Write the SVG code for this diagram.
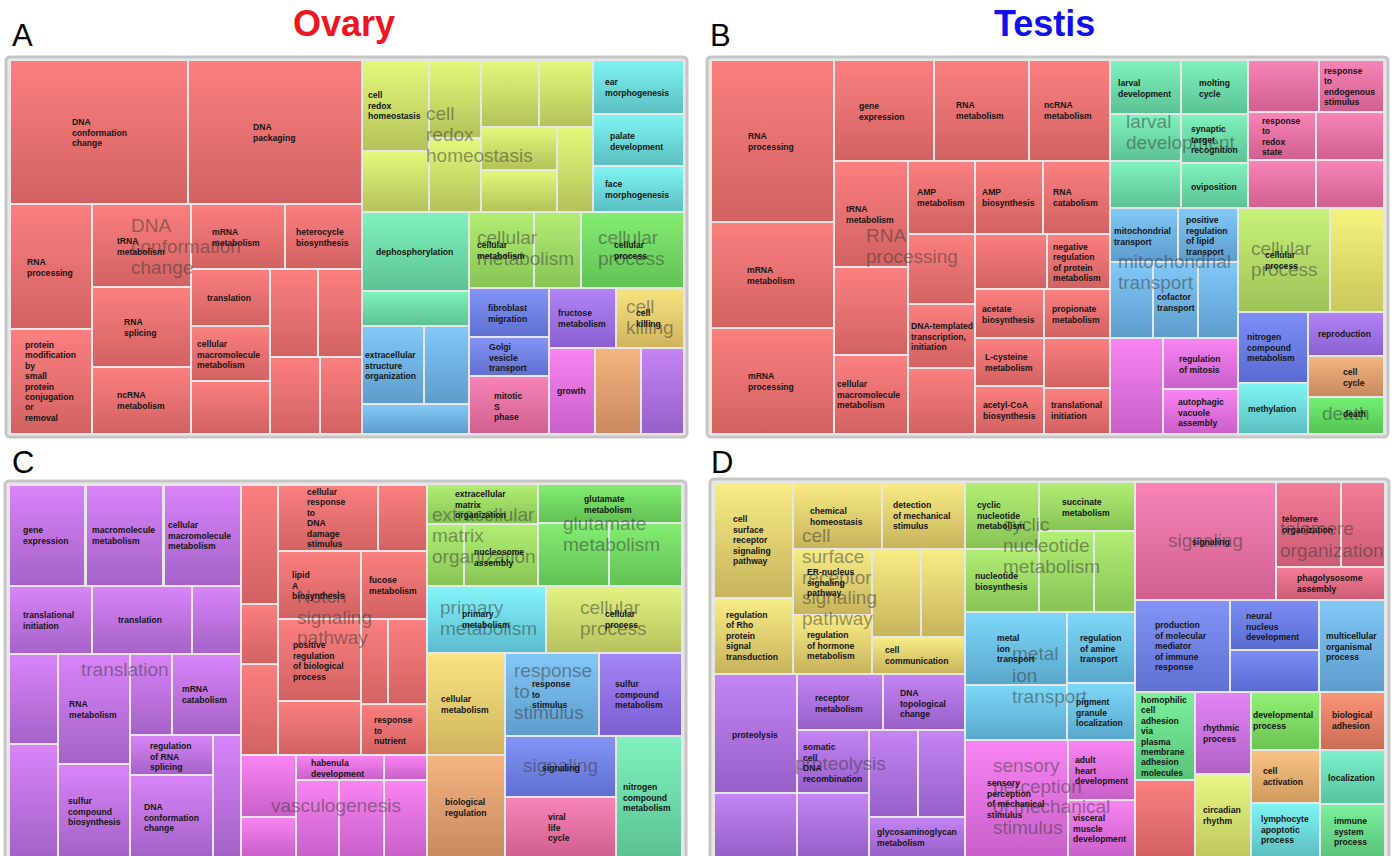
<svg xmlns="http://www.w3.org/2000/svg" width="1395" height="856" viewBox="0 0 1395 856">
<defs>
<linearGradient id="red" x1="0" y1="0" x2="0" y2="1"><stop offset="0" stop-color="#fb7f7f"/><stop offset="1" stop-color="#d26262"/></linearGradient>
<linearGradient id="yg" x1="0" y1="0" x2="0" y2="1"><stop offset="0" stop-color="#e4f87c"/><stop offset="1" stop-color="#b4c25a"/></linearGradient>
<linearGradient id="cyan" x1="0" y1="0" x2="0" y2="1"><stop offset="0" stop-color="#80f4f4"/><stop offset="1" stop-color="#5cbfc0"/></linearGradient>
<linearGradient id="mint" x1="0" y1="0" x2="0" y2="1"><stop offset="0" stop-color="#80f2be"/><stop offset="1" stop-color="#5cc294"/></linearGradient>
<linearGradient id="lblue" x1="0" y1="0" x2="0" y2="1"><stop offset="0" stop-color="#82c8f6"/><stop offset="1" stop-color="#5e9ccc"/></linearGradient>
<linearGradient id="lime" x1="0" y1="0" x2="0" y2="1"><stop offset="0" stop-color="#b2ee74"/><stop offset="1" stop-color="#88c455"/></linearGradient>
<linearGradient id="green" x1="0" y1="0" x2="0" y2="1"><stop offset="0" stop-color="#84ec72"/><stop offset="1" stop-color="#62c254"/></linearGradient>
<linearGradient id="bviol" x1="0" y1="0" x2="0" y2="1"><stop offset="0" stop-color="#8494f6"/><stop offset="1" stop-color="#6070d0"/></linearGradient>
<linearGradient id="pink" x1="0" y1="0" x2="0" y2="1"><stop offset="0" stop-color="#f884b8"/><stop offset="1" stop-color="#d0608e"/></linearGradient>
<linearGradient id="purp" x1="0" y1="0" x2="0" y2="1"><stop offset="0" stop-color="#b284f6"/><stop offset="1" stop-color="#8a60d0"/></linearGradient>
<linearGradient id="gold" x1="0" y1="0" x2="0" y2="1"><stop offset="0" stop-color="#f8e482"/><stop offset="1" stop-color="#d0b45e"/></linearGradient>
<linearGradient id="mag" x1="0" y1="0" x2="0" y2="1"><stop offset="0" stop-color="#f884f2"/><stop offset="1" stop-color="#c860c8"/></linearGradient>
<linearGradient id="orng" x1="0" y1="0" x2="0" y2="1"><stop offset="0" stop-color="#f4b482"/><stop offset="1" stop-color="#c88a5e"/></linearGradient>
<linearGradient id="viol" x1="0" y1="0" x2="0" y2="1"><stop offset="0" stop-color="#c484f4"/><stop offset="1" stop-color="#9660c8"/></linearGradient>
<linearGradient id="vio2" x1="0" y1="0" x2="0" y2="1"><stop offset="0" stop-color="#d884f8"/><stop offset="1" stop-color="#a462c8"/></linearGradient>
<linearGradient id="yel" x1="0" y1="0" x2="0" y2="1"><stop offset="0" stop-color="#f4f47e"/><stop offset="1" stop-color="#c8c85c"/></linearGradient>
<linearGradient id="ygB" x1="0" y1="0" x2="0" y2="1"><stop offset="0" stop-color="#c8f27a"/><stop offset="1" stop-color="#9ec258"/></linearGradient>
<linearGradient id="dgreen" x1="0" y1="0" x2="0" y2="1"><stop offset="0" stop-color="#74f074"/><stop offset="1" stop-color="#54c454"/></linearGradient>
<linearGradient id="dyel" x1="0" y1="0" x2="0" y2="1"><stop offset="0" stop-color="#f8ec86"/><stop offset="1" stop-color="#c8b45c"/></linearGradient>
<linearGradient id="sky" x1="0" y1="0" x2="0" y2="1"><stop offset="0" stop-color="#7cd8f8"/><stop offset="1" stop-color="#5aa8cc"/></linearGradient>
<linearGradient id="pinkred" x1="0" y1="0" x2="0" y2="1"><stop offset="0" stop-color="#f47c96"/><stop offset="1" stop-color="#cc5c74"/></linearGradient>
<linearGradient id="blue2" x1="0" y1="0" x2="0" y2="1"><stop offset="0" stop-color="#7c8ef6"/><stop offset="1" stop-color="#5a6cd0"/></linearGradient>
<linearGradient id="mviol" x1="0" y1="0" x2="0" y2="1"><stop offset="0" stop-color="#e284f4"/><stop offset="1" stop-color="#b062c8"/></linearGradient>
<linearGradient id="ygr" x1="0" y1="0" x2="0" y2="1"><stop offset="0" stop-color="#e8f884"/><stop offset="1" stop-color="#c0c860"/></linearGradient>
<linearGradient id="orng2" x1="0" y1="0" x2="0" y2="1"><stop offset="0" stop-color="#f8c484"/><stop offset="1" stop-color="#d09a5e"/></linearGradient>
<linearGradient id="ored" x1="0" y1="0" x2="0" y2="1"><stop offset="0" stop-color="#f89478"/><stop offset="1" stop-color="#cc6c54"/></linearGradient>
<linearGradient id="mint2" x1="0" y1="0" x2="0" y2="1"><stop offset="0" stop-color="#7cf0cc"/><stop offset="1" stop-color="#58c4a0"/></linearGradient>
<linearGradient id="green3" x1="0" y1="0" x2="0" y2="1"><stop offset="0" stop-color="#7cf09c"/><stop offset="1" stop-color="#58c47a"/></linearGradient>
<linearGradient id="green4" x1="0" y1="0" x2="0" y2="1"><stop offset="0" stop-color="#92f074"/><stop offset="1" stop-color="#6cc454"/></linearGradient>
<linearGradient id="purp2" x1="0" y1="0" x2="0" y2="1"><stop offset="0" stop-color="#a484f8"/><stop offset="1" stop-color="#7a60d0"/></linearGradient>
<linearGradient id="cyan2" x1="0" y1="0" x2="0" y2="1"><stop offset="0" stop-color="#84f4fa"/><stop offset="1" stop-color="#5cbcd0"/></linearGradient>
<linearGradient id="ygC" x1="0" y1="0" x2="0" y2="1"><stop offset="0" stop-color="#e2f282"/><stop offset="1" stop-color="#b8c25e"/></linearGradient>
</defs>
<style>
.frame{fill:#e6e6e6;stroke:#c6c6c6;stroke-width:3}
.t{font-family:"Liberation Sans",Arial,sans-serif;font-size:8.6px;font-weight:bold;fill:#151515}
.w{font-family:"Liberation Sans",Arial,sans-serif;font-size:19px;fill:#383838;fill-opacity:.52}
.lab{font-family:"Liberation Sans",Arial,sans-serif;font-size:31px;fill:#000}
.title{font-family:"Liberation Sans",Arial,sans-serif;font-size:36px;font-weight:bold}
.red{fill:url(#red)}.yg{fill:url(#yg)}.cyan{fill:url(#cyan)}.mint{fill:url(#mint)}.lblue{fill:url(#lblue)}
.lime{fill:url(#lime)}.green{fill:url(#green)}.bviol{fill:url(#bviol)}.pink{fill:url(#pink)}.purp{fill:url(#purp)}
.gold{fill:url(#gold)}.mag{fill:url(#mag)}.orng{fill:url(#orng)}.viol{fill:url(#viol)}.vio2{fill:url(#vio2)}
.yel{fill:url(#yel)}.ygB{fill:url(#ygB)}.dgreen{fill:url(#dgreen)}.dyel{fill:url(#dyel)}.sky{fill:url(#sky)}
.pinkred{fill:url(#pinkred)}.blue2{fill:url(#blue2)}.mviol{fill:url(#mviol)}.ygr{fill:url(#ygr)}.orng2{fill:url(#orng2)}
.ored{fill:url(#ored)}.mint2{fill:url(#mint2)}.green3{fill:url(#green3)}.green4{fill:url(#green4)}.purp2{fill:url(#purp2)}
.cyan2{fill:url(#cyan2)}.ygC{fill:url(#ygC)}
</style>
<rect x="0" y="0" width="1395" height="856" fill="#fff"/>

<g id="labels">
<text class="lab" x="12" y="46">A</text>
<text class="lab" x="710" y="46">B</text>
<text class="lab" x="12" y="473">C</text>
<text class="lab" x="711" y="473">D</text>
<text class="title" x="293" y="36" fill="#ec1520">Ovary</text>
<text class="title" x="994" y="36" fill="#1010ee">Testis</text>
</g>

<g id="panel-A">
<rect class="frame" x="6" y="57" width="681" height="380" rx="4"/>
<g id="a-tiles">
<rect class="red" x="11" y="61" width="176" height="142"/>
<rect class="red" x="189" y="61" width="172" height="142"/>
<rect class="red" x="11" y="205" width="80" height="123"/>
<rect class="red" x="11" y="330" width="80" height="103"/>
<rect class="red" x="93" y="205" width="97" height="81"/>
<rect class="red" x="93" y="288" width="97" height="78"/>
<rect class="red" x="93" y="368" width="97" height="65"/>
<rect class="red" x="192" y="205" width="92" height="63"/>
<rect class="red" x="286" y="205" width="75" height="63"/>
<rect class="red" x="192" y="270" width="77" height="55"/>
<rect class="red" x="192" y="327" width="77" height="53"/>
<rect class="red" x="192" y="382" width="77" height="51"/>
<rect class="red" x="271" y="270" width="46" height="86"/>
<rect class="red" x="319" y="270" width="42" height="86"/>
<rect class="red" x="271" y="358" width="48" height="75"/>
<rect class="red" x="321" y="358" width="40" height="75"/>
<rect class="yg" x="363" y="61" width="65" height="89"/>
<rect class="yg" x="363" y="152" width="65" height="59"/>
<rect class="yg" x="430" y="61" width="50" height="76"/>
<rect class="yg" x="430" y="139" width="50" height="72"/>
<rect class="yg" x="482" y="61" width="56" height="65"/>
<rect class="yg" x="540" y="61" width="52" height="65"/>
<rect class="yg" x="482" y="128" width="74" height="41"/>
<rect class="yg" x="482" y="171" width="74" height="40"/>
<rect class="yg" x="558" y="128" width="34" height="83"/>
<rect class="cyan" x="594" y="61" width="89" height="52"/>
<rect class="cyan" x="594" y="115" width="89" height="50"/>
<rect class="cyan" x="594" y="167" width="89" height="44"/>
<rect class="mint" x="363" y="213" width="105" height="77"/>
<rect class="mint" x="363" y="292" width="105" height="33"/>
<rect class="lblue" x="363" y="327" width="60" height="76"/>
<rect class="lblue" x="425" y="327" width="43" height="76"/>
<rect class="lblue" x="363" y="405" width="105" height="28"/>
<rect class="lime" x="470" y="213" width="63" height="74"/>
<rect class="lime" x="535" y="213" width="45" height="74"/>
<rect class="green" x="582" y="213" width="101" height="74"/>
<rect class="bviol" x="470" y="289" width="78" height="47"/>
<rect class="bviol" x="470" y="338" width="78" height="37"/>
<rect class="pink" x="470" y="377" width="78" height="56"/>
<rect class="purp" x="550" y="289" width="65" height="58"/>
<rect class="gold" x="617" y="289" width="66" height="58"/>
<rect class="mag" x="550" y="349" width="44" height="84"/>
<rect class="orng" x="596" y="349" width="44" height="84"/>
<rect class="viol" x="642" y="349" width="41" height="84"/>
</g>
<g id="a-watermarks">
<text class="w" x="131" y="232">DNA<tspan x="131" dy="21">conformation</tspan><tspan x="131" dy="21">change</tspan></text>
<text class="w" x="426" y="120">cell<tspan x="426" dy="21">redox</tspan><tspan x="426" dy="21">homeostasis</tspan></text>
<text class="w" x="477" y="244">cellular<tspan x="477" dy="21">metabolism</tspan></text>
<text class="w" x="598" y="244">cellular<tspan x="598" dy="21">process</tspan></text>
<text class="w" x="626" y="313">cell<tspan x="626" dy="21">killing</tspan></text>
</g>
<g id="a-labels">
<text class="t" x="72" y="125">DNA<tspan x="72" dy="10.5">conformation</tspan><tspan x="72" dy="10.5">change</tspan></text>
<text class="t" x="253" y="130">DNA<tspan x="253" dy="10.5">packaging</tspan></text>
<text class="t" x="27" y="265">RNA<tspan x="27" dy="10.5">processing</tspan></text>
<text class="t" x="25" y="348">protein<tspan x="25" dy="10.4">modification</tspan><tspan x="25" dy="10.4">by</tspan><tspan x="25" dy="10.4">small</tspan><tspan x="25" dy="10.4">protein</tspan><tspan x="25" dy="10.4">conjugation</tspan><tspan x="25" dy="10.4">or</tspan><tspan x="25" dy="10.4">removal</tspan></text>
<text class="t" x="117" y="244">tRNA<tspan x="117" dy="10.5">metabolism</tspan></text>
<text class="t" x="212" y="235">mRNA<tspan x="212" dy="10.5">metabolism</tspan></text>
<text class="t" x="296" y="235">heterocycle<tspan x="296" dy="10.5">biosynthesis</tspan></text>
<text class="t" x="124" y="325">RNA<tspan x="124" dy="10.5">splicing</tspan></text>
<text class="t" x="207" y="301">translation</text>
<text class="t" x="197" y="347">cellular<tspan x="197" dy="10.5">macromolecule</tspan><tspan x="197" dy="10.5">metabolism</tspan></text>
<text class="t" x="117" y="398">ncRNA<tspan x="117" dy="10.5">metabolism</tspan></text>
<text class="t" x="368" y="98">cell<tspan x="368" dy="10.5">redox</tspan><tspan x="368" dy="10.5">homeostasis</tspan></text>
<text class="t" x="605" y="85">ear<tspan x="605" dy="10.5">morphogenesis</tspan></text>
<text class="t" x="610" y="139">palate<tspan x="610" dy="10.5">development</tspan></text>
<text class="t" x="605" y="187">face<tspan x="605" dy="10.5">morphogenesis</tspan></text>
<text class="t" x="376" y="255">dephosphorylation</text>
<text class="t" x="477" y="248">cellular<tspan x="477" dy="10.5">metabolism</tspan></text>
<text class="t" x="614" y="248">cellular<tspan x="614" dy="10.5">process</tspan></text>
<text class="t" x="488" y="311">fibroblast<tspan x="488" dy="10.5">migration</tspan></text>
<text class="t" x="558" y="316">fructose<tspan x="558" dy="10.5">metabolism</tspan></text>
<text class="t" x="636" y="316">cell<tspan x="636" dy="10.5">killing</tspan></text>
<text class="t" x="489" y="350">Golgi<tspan x="489" dy="10.5">vesicle</tspan><tspan x="489" dy="10.5">transport</tspan></text>
<text class="t" x="365" y="358">extracellular<tspan x="365" dy="10.5">structure</tspan><tspan x="365" dy="10.5">organization</tspan></text>
<text class="t" x="494" y="399">mitotic<tspan x="494" dy="10.5">S</tspan><tspan x="494" dy="10.5">phase</tspan></text>
<text class="t" x="557" y="394">growth</text>
</g>
</g>

<g id="panel-B">
<rect class="frame" x="707" y="57" width="681" height="380" rx="4"/>
<g id="b-tiles">
<rect class="red" x="712" y="61" width="121" height="160"/>
<rect class="red" x="712" y="223" width="121" height="104"/>
<rect class="red" x="712" y="329" width="121" height="104"/>
<rect class="red" x="835" y="61" width="98" height="99"/>
<rect class="red" x="935" y="61" width="93" height="99"/>
<rect class="red" x="1030" y="61" width="79" height="99"/>
<rect class="red" x="835" y="162" width="72" height="104"/>
<rect class="red" x="835" y="268" width="72" height="86"/>
<rect class="red" x="835" y="356" width="72" height="77"/>
<rect class="red" x="909" y="162" width="65" height="71"/>
<rect class="red" x="909" y="235" width="65" height="68"/>
<rect class="red" x="909" y="305" width="65" height="62"/>
<rect class="red" x="909" y="369" width="65" height="64"/>
<rect class="red" x="976" y="162" width="66" height="71"/>
<rect class="red" x="1044" y="162" width="65" height="71"/>
<rect class="red" x="976" y="235" width="70" height="53"/>
<rect class="red" x="1048" y="235" width="61" height="53"/>
<rect class="red" x="976" y="290" width="67" height="47"/>
<rect class="red" x="1045" y="290" width="64" height="47"/>
<rect class="red" x="976" y="339" width="67" height="46"/>
<rect class="red" x="1045" y="339" width="64" height="48"/>
<rect class="red" x="976" y="387" width="67" height="46"/>
<rect class="red" x="1045" y="389" width="64" height="44"/>
<rect class="mint" x="1111" y="61" width="69" height="52"/>
<rect class="mint" x="1182" y="61" width="65" height="52"/>
<rect class="mint" x="1111" y="115" width="69" height="45"/>
<rect class="mint" x="1182" y="115" width="65" height="47"/>
<rect class="mint" x="1111" y="162" width="69" height="45"/>
<rect class="mint" x="1182" y="164" width="65" height="43"/>
<rect class="pink" x="1249" y="61" width="69" height="50"/>
<rect class="pink" x="1320" y="61" width="63" height="50"/>
<rect class="pink" x="1249" y="113" width="66" height="46"/>
<rect class="pink" x="1317" y="113" width="66" height="46"/>
<rect class="pink" x="1249" y="161" width="66" height="46"/>
<rect class="pink" x="1317" y="161" width="66" height="46"/>
<rect class="lblue" x="1111" y="209" width="66" height="52"/>
<rect class="lblue" x="1179" y="209" width="58" height="52"/>
<rect class="lblue" x="1111" y="263" width="41" height="74"/>
<rect class="lblue" x="1154" y="263" width="43" height="74"/>
<rect class="lblue" x="1199" y="263" width="38" height="74"/>
<rect class="ygB" x="1239" y="209" width="90" height="102"/>
<rect class="yel" x="1331" y="209" width="52" height="102"/>
<rect class="blue2" x="1239" y="313" width="68" height="69"/>
<rect class="cyan" x="1239" y="384" width="68" height="49"/>
<rect class="purp" x="1309" y="313" width="74" height="42"/>
<rect class="orng" x="1309" y="357" width="74" height="39"/>
<rect class="dgreen" x="1309" y="398" width="74" height="35"/>
<rect class="mag" x="1111" y="339" width="51" height="94"/>
<rect class="mag" x="1164" y="339" width="73" height="49"/>
<rect class="mag" x="1164" y="390" width="73" height="43"/>
</g>
<g id="b-watermarks">
<text class="w" x="866" y="242">RNA<tspan x="866" dy="21">processing</tspan></text>
<text class="w" x="1126" y="128">larval<tspan x="1126" dy="21">development</tspan></text>
<text class="w" x="1118" y="268">mitochondrial<tspan x="1118" dy="21">transport</tspan></text>
<text class="w" x="1251" y="255">cellular<tspan x="1251" dy="21">process</tspan></text>
<text class="w" x="1322" y="420">death</text>
</g>
<g id="b-labels">
<text class="t" x="748" y="139">RNA<tspan x="748" dy="10.5">processing</tspan></text>
<text class="t" x="859" y="109">gene<tspan x="859" dy="10.5">expression</tspan></text>
<text class="t" x="956" y="108">RNA<tspan x="956" dy="10.5">metabolism</tspan></text>
<text class="t" x="1044" y="108">ncRNA<tspan x="1044" dy="10.5">metabolism</tspan></text>
<text class="t" x="846" y="212">tRNA<tspan x="846" dy="10.5">metabolism</tspan></text>
<text class="t" x="917" y="195">AMP<tspan x="917" dy="10.5">metabolism</tspan></text>
<text class="t" x="982" y="195">AMP<tspan x="982" dy="10.5">biosynthesis</tspan></text>
<text class="t" x="1053" y="195">RNA<tspan x="1053" dy="10.5">catabolism</tspan></text>
<text class="t" x="747" y="273">mRNA<tspan x="747" dy="10.5">metabolism</tspan></text>
<text class="t" x="1053" y="250">negative<tspan x="1053" dy="10.4">regulation</tspan><tspan x="1053" dy="10.4">of protein</tspan><tspan x="1053" dy="10.4">metabolism</tspan></text>
<text class="t" x="982" y="312">acetate<tspan x="982" dy="10.5">biosynthesis</tspan></text>
<text class="t" x="1052" y="312">propionate<tspan x="1052" dy="10.5">metabolism</tspan></text>
<text class="t" x="911" y="329">DNA-templated<tspan x="911" dy="10.5">transcription,</tspan><tspan x="911" dy="10.5">initiation</tspan></text>
<text class="t" x="985" y="360">L-cysteine<tspan x="985" dy="10.5">metabolism</tspan></text>
<text class="t" x="748" y="379">mRNA<tspan x="748" dy="10.5">processing</tspan></text>
<text class="t" x="837" y="387">cellular<tspan x="837" dy="10.5">macromolecule</tspan><tspan x="837" dy="10.5">metabolism</tspan></text>
<text class="t" x="983" y="408">acetyl-CoA<tspan x="983" dy="10.5">biosynthesis</tspan></text>
<text class="t" x="1051" y="408">translational<tspan x="1051" dy="10.5">initiation</tspan></text>
<text class="t" x="1118" y="86">larval<tspan x="1118" dy="10.5">development</tspan></text>
<text class="t" x="1199" y="86">molting<tspan x="1199" dy="10.5">cycle</tspan></text>
<text class="t" x="1324" y="74">response<tspan x="1324" dy="10.4">to</tspan><tspan x="1324" dy="10.4">endogenous</tspan><tspan x="1324" dy="10.4">stimulus</tspan></text>
<text class="t" x="1262" y="124">response<tspan x="1262" dy="10.4">to</tspan><tspan x="1262" dy="10.4">redox</tspan><tspan x="1262" dy="10.4">state</tspan></text>
<text class="t" x="1191" y="132">synaptic<tspan x="1191" dy="10.5">target</tspan><tspan x="1191" dy="10.5">recognition</tspan></text>
<text class="t" x="1191" y="190">oviposition</text>
<text class="t" x="1114" y="234">mitochondrial<tspan x="1114" dy="10.5">transport</tspan></text>
<text class="t" x="1186" y="223">positive<tspan x="1186" dy="10.5">regulation</tspan><tspan x="1186" dy="10.5">of lipid</tspan><tspan x="1186" dy="10.5">transport</tspan></text>
<text class="t" x="1265" y="258">cellular<tspan x="1265" dy="10.5">process</tspan></text>
<text class="t" x="1157" y="300">cofactor<tspan x="1157" dy="10.5">transport</tspan></text>
<text class="t" x="1247" y="340">nitrogen<tspan x="1247" dy="10.5">compound</tspan><tspan x="1247" dy="10.5">metabolism</tspan></text>
<text class="t" x="1318" y="337">reproduction</text>
<text class="t" x="1179" y="362">regulation<tspan x="1179" dy="10.5">of mitosis</tspan></text>
<text class="t" x="1343" y="375">cell<tspan x="1343" dy="10.5">cycle</tspan></text>
<text class="t" x="1178" y="405">autophagic<tspan x="1178" dy="10.5">vacuole</tspan><tspan x="1178" dy="10.5">assembly</tspan></text>
<text class="t" x="1248" y="412">methylation</text>
<text class="t" x="1343" y="417">death</text>
</g>
</g>

<g id="panel-C">
<rect class="frame" x="5" y="481" width="681" height="385" rx="4"/>
<g id="c-tiles">
<rect class="vio2" x="10" y="486" width="74" height="99"/>
<rect class="vio2" x="87" y="486" width="75" height="99"/>
<rect class="vio2" x="165" y="486" width="75" height="99"/>
<rect class="vio2" x="10" y="587" width="81" height="66"/>
<rect class="vio2" x="93" y="587" width="98" height="66"/>
<rect class="vio2" x="193" y="587" width="47" height="66"/>
<rect class="vio2" x="10" y="655" width="47" height="88"/>
<rect class="vio2" x="10" y="745" width="47" height="111"/>
<rect class="vio2" x="59" y="655" width="70" height="108"/>
<rect class="vio2" x="59" y="765" width="70" height="91"/>
<rect class="vio2" x="131" y="655" width="40" height="79"/>
<rect class="vio2" x="173" y="655" width="67" height="79"/>
<rect class="vio2" x="131" y="736" width="81" height="38"/>
<rect class="vio2" x="131" y="776" width="81" height="80"/>
<rect class="vio2" x="214" y="736" width="26" height="120"/>
<rect class="red" x="242" y="486" width="35" height="117"/>
<rect class="red" x="242" y="605" width="35" height="58"/>
<rect class="red" x="242" y="665" width="35" height="89"/>
<rect class="red" x="279" y="486" width="98" height="64"/>
<rect class="red" x="379" y="486" width="47" height="64"/>
<rect class="red" x="279" y="552" width="81" height="66"/>
<rect class="red" x="362" y="552" width="64" height="66"/>
<rect class="red" x="279" y="620" width="81" height="80"/>
<rect class="red" x="362" y="620" width="25" height="83"/>
<rect class="red" x="389" y="620" width="37" height="83"/>
<rect class="red" x="279" y="702" width="81" height="52"/>
<rect class="red" x="362" y="705" width="64" height="49"/>
<rect class="mag" x="242" y="756" width="53" height="60"/>
<rect class="mag" x="242" y="818" width="53" height="38"/>
<rect class="mag" x="297" y="756" width="86" height="23"/>
<rect class="mag" x="385" y="756" width="41" height="23"/>
<rect class="mag" x="297" y="781" width="41" height="75"/>
<rect class="mag" x="340" y="781" width="43" height="75"/>
<rect class="mag" x="385" y="781" width="41" height="75"/>
<rect class="lime" x="428" y="485" width="109" height="38"/>
<rect class="lime" x="428" y="525" width="35" height="60"/>
<rect class="lime" x="465" y="525" width="72" height="60"/>
<rect class="green" x="539" y="485" width="142" height="37"/>
<rect class="green" x="539" y="524" width="69" height="61"/>
<rect class="green" x="610" y="524" width="71" height="61"/>
<rect class="cyan2" x="428" y="587" width="117" height="65"/>
<rect class="ygC" x="547" y="587" width="134" height="65"/>
<rect class="gold" x="428" y="654" width="76" height="100"/>
<rect class="orng" x="428" y="756" width="76" height="100"/>
<rect class="lblue" x="506" y="654" width="92" height="81"/>
<rect class="purp2" x="600" y="654" width="81" height="81"/>
<rect class="bviol" x="506" y="737" width="109" height="59"/>
<rect class="pink" x="506" y="798" width="109" height="58"/>
<rect class="mint" x="617" y="737" width="64" height="119"/>
</g>
<g id="c-watermarks">
<text class="w" x="81" y="676">translation</text>
<text class="w" x="297" y="603">Notch<tspan x="297" dy="21">signaling</tspan><tspan x="297" dy="20">pathway</tspan></text>
<text class="w" x="271" y="812">vasculogenesis</text>
<text class="w" x="432" y="521">extracellular<tspan x="432" dy="21">matrix</tspan><tspan x="432" dy="21">organization</tspan></text>
<text class="w" x="563" y="530">glutamate<tspan x="563" dy="21">metabolism</tspan></text>
<text class="w" x="440" y="614">primary<tspan x="440" dy="21">metabolism</tspan></text>
<text class="w" x="580" y="614">cellular<tspan x="580" dy="21">process</tspan></text>
<text class="w" x="514" y="677">response<tspan x="514" dy="21">to</tspan><tspan x="514" dy="21">stimulus</tspan></text>
<text class="w" x="523" y="772">signaling</text>
</g>
<g id="c-labels">
<text class="t" x="23" y="533">gene<tspan x="23" dy="10.5">expression</tspan></text>
<text class="t" x="92" y="533">macromolecule<tspan x="92" dy="10.5">metabolism</tspan></text>
<text class="t" x="168" y="528">cellular<tspan x="168" dy="10.5">macromolecule</tspan><tspan x="168" dy="10.5">metabolism</tspan></text>
<text class="t" x="307" y="495">cellular<tspan x="307" dy="10.4">response</tspan><tspan x="307" dy="10.4">to</tspan><tspan x="307" dy="10.4">DNA</tspan><tspan x="307" dy="10.4">damage</tspan><tspan x="307" dy="10.4">stimulus</tspan></text>
<text class="t" x="292" y="578">lipid<tspan x="292" dy="10.5">A</tspan><tspan x="292" dy="10.5">biosynthesis</tspan></text>
<text class="t" x="369" y="583">fucose<tspan x="369" dy="10.5">metabolism</tspan></text>
<text class="t" x="23" y="618">translational<tspan x="23" dy="10.5">initiation</tspan></text>
<text class="t" x="118" y="623">translation</text>
<text class="t" x="293" y="648">positive<tspan x="293" dy="10.5">regulation</tspan><tspan x="293" dy="10.5">of biological</tspan><tspan x="293" dy="10.5">process</tspan></text>
<text class="t" x="182" y="692">mRNA<tspan x="182" dy="10.5">catabolism</tspan></text>
<text class="t" x="69" y="707">RNA<tspan x="69" dy="10.5">metabolism</tspan></text>
<text class="t" x="374" y="723">response<tspan x="374" dy="10.5">to</tspan><tspan x="374" dy="10.5">nutrient</tspan></text>
<text class="t" x="150" y="749">regulation<tspan x="150" dy="10.5">of RNA</tspan><tspan x="150" dy="10.5">splicing</tspan></text>
<text class="t" x="311" y="766">habenula<tspan x="311" dy="10.5">development</tspan></text>
<text class="t" x="68" y="804">sulfur<tspan x="68" dy="10.5">compound</tspan><tspan x="68" dy="10.5">biosynthesis</tspan></text>
<text class="t" x="144" y="810">DNA<tspan x="144" dy="10.5">conformation</tspan><tspan x="144" dy="10.5">change</tspan></text>
<text class="t" x="455" y="497">extracellular<tspan x="455" dy="10.5">matrix</tspan><tspan x="455" dy="10.5">organization</tspan></text>
<text class="t" x="584" y="502">glutamate<tspan x="584" dy="10.5">metabolism</tspan></text>
<text class="t" x="474" y="555">nucleosome<tspan x="474" dy="10.5">assembly</tspan></text>
<text class="t" x="462" y="617">primary<tspan x="462" dy="10.5">metabolism</tspan></text>
<text class="t" x="605" y="617">cellular<tspan x="605" dy="10.5">process</tspan></text>
<text class="t" x="532" y="687">response<tspan x="532" dy="10.5">to</tspan><tspan x="532" dy="10.5">stimulus</tspan></text>
<text class="t" x="615" y="687">sulfur<tspan x="615" dy="10.5">compound</tspan><tspan x="615" dy="10.5">metabolism</tspan></text>
<text class="t" x="441" y="702">cellular<tspan x="441" dy="10.5">metabolism</tspan></text>
<text class="t" x="542" y="771">signaling</text>
<text class="t" x="623" y="790">nitrogen<tspan x="623" dy="10.5">compound</tspan><tspan x="623" dy="10.5">metabolism</tspan></text>
<text class="t" x="445" y="805">biological<tspan x="445" dy="10.5">regulation</tspan></text>
<text class="t" x="548" y="820">viral<tspan x="548" dy="10.5">life</tspan><tspan x="548" dy="10.5">cycle</tspan></text>
</g>
</g>

<g id="panel-D">
<rect class="frame" x="710" y="479" width="679" height="387" rx="4"/>
<g id="d-tiles">
<rect class="dyel" x="715" y="483" width="77" height="114"/>
<rect class="dyel" x="715" y="599" width="77" height="74"/>
<rect class="dyel" x="794" y="483" width="87" height="65"/>
<rect class="dyel" x="883" y="483" width="81" height="65"/>
<rect class="dyel" x="794" y="550" width="77" height="64"/>
<rect class="dyel" x="794" y="616" width="77" height="57"/>
<rect class="dyel" x="873" y="550" width="47" height="86"/>
<rect class="dyel" x="922" y="550" width="42" height="86"/>
<rect class="dyel" x="873" y="638" width="91" height="35"/>
<rect class="viol" x="715" y="675" width="81" height="117"/>
<rect class="viol" x="715" y="794" width="81" height="62"/>
<rect class="viol" x="798" y="675" width="84" height="54"/>
<rect class="viol" x="884" y="675" width="80" height="54"/>
<rect class="viol" x="798" y="731" width="70" height="61"/>
<rect class="viol" x="798" y="794" width="70" height="62"/>
<rect class="viol" x="870" y="731" width="47" height="85"/>
<rect class="viol" x="919" y="731" width="45" height="85"/>
<rect class="viol" x="870" y="818" width="94" height="38"/>
<rect class="lime" x="966" y="483" width="72" height="65"/>
<rect class="lime" x="966" y="550" width="72" height="61"/>
<rect class="lime" x="1040" y="483" width="94" height="47"/>
<rect class="lime" x="1040" y="532" width="53" height="79"/>
<rect class="lime" x="1095" y="532" width="39" height="79"/>
<rect class="sky" x="966" y="613" width="100" height="71"/>
<rect class="sky" x="966" y="686" width="100" height="53"/>
<rect class="sky" x="1068" y="613" width="66" height="69"/>
<rect class="sky" x="1068" y="684" width="66" height="55"/>
<rect class="mag" x="966" y="741" width="101" height="115"/>
<rect class="mag" x="1069" y="741" width="65" height="58"/>
<rect class="mag" x="1069" y="801" width="65" height="55"/>
<rect class="pink" x="1136" y="483" width="139" height="116"/>
<rect class="pinkred" x="1277" y="483" width="63" height="83"/>
<rect class="pinkred" x="1342" y="483" width="42" height="83"/>
<rect class="pinkred" x="1277" y="568" width="107" height="31"/>
<rect class="bviol" x="1136" y="601" width="93" height="90"/>
<rect class="blue2" x="1231" y="601" width="87" height="48"/>
<rect class="blue2" x="1231" y="651" width="87" height="40"/>
<rect class="lblue" x="1320" y="601" width="64" height="90"/>
<rect class="green3" x="1136" y="693" width="58" height="86"/>
<rect class="red" x="1136" y="781" width="58" height="75"/>
<rect class="mviol" x="1196" y="693" width="54" height="80"/>
<rect class="ygr" x="1196" y="775" width="54" height="81"/>
<rect class="green4" x="1252" y="693" width="67" height="56"/>
<rect class="orng2" x="1252" y="751" width="67" height="51"/>
<rect class="cyan" x="1252" y="804" width="67" height="52"/>
<rect class="ored" x="1321" y="693" width="63" height="56"/>
<rect class="mint2" x="1321" y="751" width="63" height="52"/>
<rect class="green3" x="1321" y="805" width="63" height="51"/>
</g>
<g id="d-watermarks">
<text class="w" x="802" y="542">cell<tspan x="802" dy="21">surface</tspan><tspan x="802" dy="20.5">receptor</tspan><tspan x="802" dy="20.5">signaling</tspan><tspan x="802" dy="21">pathway</tspan></text>
<text class="w" x="1003" y="531">cyclic<tspan x="1003" dy="21">nucleotide</tspan><tspan x="1003" dy="21">metabolism</tspan></text>
<text class="w" x="1012" y="660">metal<tspan x="1012" dy="22">ion</tspan><tspan x="1012" dy="21">transport</tspan></text>
<text class="w" x="795" y="770">proteolysis</text>
<text class="w" x="993" y="772">sensory<tspan x="993" dy="20.5">perception</tspan><tspan x="993" dy="20.5">of mechanical</tspan><tspan x="993" dy="20.5">stimulus</tspan></text>
<text class="w" x="1168" y="547">signaling</text>
<text class="w" x="1280" y="535">telomere<tspan x="1280" dy="22">organization</tspan></text>
</g>
<g id="d-labels">
<text class="t" x="733" y="522">cell<tspan x="733" dy="10.5">surface</tspan><tspan x="733" dy="10.5">receptor</tspan><tspan x="733" dy="10.5">signaling</tspan><tspan x="733" dy="10.5">pathway</tspan></text>
<text class="t" x="810" y="514">chemical<tspan x="810" dy="10.5">homeostasis</tspan></text>
<text class="t" x="893" y="508">detection<tspan x="893" dy="10.5">of mechanical</tspan><tspan x="893" dy="10.5">stimulus</tspan></text>
<text class="t" x="977" y="508">cyclic<tspan x="977" dy="10.5">nucleotide</tspan><tspan x="977" dy="10.5">metabolism</tspan></text>
<text class="t" x="1062" y="505">succinate<tspan x="1062" dy="10.5">metabolism</tspan></text>
<text class="t" x="807" y="575">ER-nucleus<tspan x="807" dy="10.5">signaling</tspan><tspan x="807" dy="10.5">pathway</tspan></text>
<text class="t" x="975" y="579">nucleotide<tspan x="975" dy="10.5">biosynthesis</tspan></text>
<text class="t" x="726" y="618">regulation<tspan x="726" dy="10.4">of Rho</tspan><tspan x="726" dy="10.4">protein</tspan><tspan x="726" dy="10.4">signal</tspan><tspan x="726" dy="10.4">transduction</tspan></text>
<text class="t" x="807" y="638">regulation<tspan x="807" dy="10.5">of hormone</tspan><tspan x="807" dy="10.5">metabolism</tspan></text>
<text class="t" x="885" y="653">cell<tspan x="885" dy="10.5">communication</tspan></text>
<text class="t" x="997" y="641">metal<tspan x="997" dy="10.5">ion</tspan><tspan x="997" dy="10.5">transport</tspan></text>
<text class="t" x="1080" y="641">regulation<tspan x="1080" dy="10.5">of amine</tspan><tspan x="1080" dy="10.5">transport</tspan></text>
<text class="t" x="1076" y="705">pigment<tspan x="1076" dy="10.5">granule</tspan><tspan x="1076" dy="10.5">localization</tspan></text>
<text class="t" x="815" y="701">receptor<tspan x="815" dy="10.5">metabolism</tspan></text>
<text class="t" x="900" y="696">DNA<tspan x="900" dy="10.5">topological</tspan><tspan x="900" dy="10.5">change</tspan></text>
<text class="t" x="732" y="738">proteolysis</text>
<text class="t" x="803" y="750">somatic<tspan x="803" dy="10.5">cell</tspan><tspan x="803" dy="10.5">DNA</tspan><tspan x="803" dy="10.5">recombination</tspan></text>
<text class="t" x="987" y="786">sensory<tspan x="987" dy="10.5">perception</tspan><tspan x="987" dy="10.5">of mechanical</tspan><tspan x="987" dy="10.5">stimulus</tspan></text>
<text class="t" x="877" y="835">glycosaminoglycan<tspan x="877" dy="10.5">metabolism</tspan></text>
<text class="t" x="1075" y="763">adult<tspan x="1075" dy="10.5">heart</tspan><tspan x="1075" dy="10.5">development</tspan></text>
<text class="t" x="1073" y="821">visceral<tspan x="1073" dy="10.5">muscle</tspan><tspan x="1073" dy="10.5">development</tspan></text>
<text class="t" x="1192" y="545">signaling</text>
<text class="t" x="1282" y="522">telomere<tspan x="1282" dy="10.5">organization</tspan></text>
<text class="t" x="1297" y="581">phagolysosome<tspan x="1297" dy="10.5">assembly</tspan></text>
<text class="t" x="1155" y="628">production<tspan x="1155" dy="10.5">of molecular</tspan><tspan x="1155" dy="10.5">mediator</tspan><tspan x="1155" dy="10.5">of immune</tspan><tspan x="1155" dy="10.5">response</tspan></text>
<text class="t" x="1246" y="619">neural<tspan x="1246" dy="10.5">nucleus</tspan><tspan x="1246" dy="10.5">development</tspan></text>
<text class="t" x="1326" y="639">multicellular<tspan x="1326" dy="10.5">organismal</tspan><tspan x="1326" dy="10.5">process</tspan></text>
<text class="t" x="1141" y="703">homophilic<tspan x="1141" dy="10.4">cell</tspan><tspan x="1141" dy="10.4">adhesion</tspan><tspan x="1141" dy="10.4">via</tspan><tspan x="1141" dy="10.4">plasma</tspan><tspan x="1141" dy="10.4">membrane</tspan><tspan x="1141" dy="10.4">adhesion</tspan><tspan x="1141" dy="10.4">molecules</tspan></text>
<text class="t" x="1203" y="731">rhythmic<tspan x="1203" dy="10.5">process</tspan></text>
<text class="t" x="1253" y="718">developmental<tspan x="1253" dy="10.5">process</tspan></text>
<text class="t" x="1332" y="718">biological<tspan x="1332" dy="10.5">adhesion</tspan></text>
<text class="t" x="1263" y="774">cell<tspan x="1263" dy="10.5">activation</tspan></text>
<text class="t" x="1328" y="781">localization</text>
<text class="t" x="1203" y="813">circadian<tspan x="1203" dy="10.5">rhythm</tspan></text>
<text class="t" x="1261" y="822">lymphocyte<tspan x="1261" dy="10.5">apoptotic</tspan><tspan x="1261" dy="10.5">process</tspan></text>
<text class="t" x="1334" y="824">immune<tspan x="1334" dy="10.5">system</tspan><tspan x="1334" dy="10.5">process</tspan></text>
</g>
</g>
</svg>
